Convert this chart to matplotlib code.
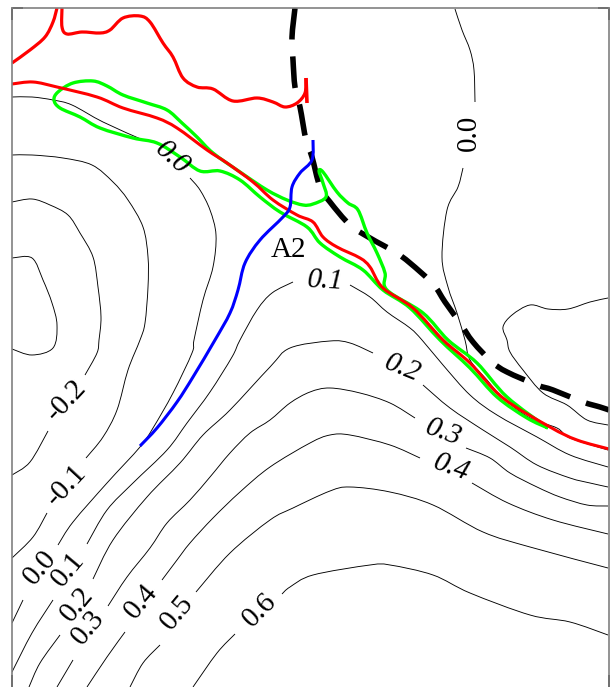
import matplotlib
matplotlib.use("Agg")
import matplotlib.pyplot as plt
from matplotlib.path import Path
from matplotlib.patches import PathPatch

plt.rcParams['font.family'] = ['Liberation Serif', 'DejaVu Serif']

# picture frame in the chart's own units
x_range = (12, 609)
y_range = (687, 8)

# thin contours, split where labels interrupt them
c_m03 = [(12,258),(32,258),(43,280),(52,303),(57,325),(53,348),(32,355),(12,349)]
c_m02a = [(12,202),(32,199),(50,205),(68,215),(80,233),(93,257),(98,287),(101,317),(99,340),(97,353),(85,375)]
c_m02b = [(48,431),(30,462),(12,475)]
c_m01a = [(12,155),(32,155),(63,158),(92,165),(113,182),(128,200),(143,227),(148,257),(148,287),(145,323),(140,340),(128,370),(117,410),(103,437),(86,458)]
c_m01b = [(47,513),(33,537),(12,558)]
c_00a = [(12,97),(32,97),(53,100),(72,105),(103,122),(143,140)]
c_00b = [(190,178),(200,190),(210,210),(216,235),(213,267),(203,300),(194,340),(192,353),(173,393),(153,428),(140,447),(107,483),(73,522),(58,545)]
c_00c = [(23,600),(12,623)]
c_01a = [(293,282),(272,293),(257,310),(240,340),(232,357),(210,392),(187,423),(167,450),(133,483),(107,510),(87,544)]
c_01b = [(53,600),(32,633),(12,672)]
c_01c = [(350,285),(370,297),(387,312),(410,328),(422,340),(443,365),(470,395),(497,415),(537,437),(570,455),(608,467)]
c_02a = [(373,353),(350,343),(330,341),(290,348),(270,367),(230,410),(203,435),(180,463),(147,497),(113,540),(93,579)]
c_02b = [(60,635),(40,663),(29,687)]
c_02c = [(423,385),(450,408),(483,430),(510,447),(537,465),(570,478),(590,483),(608,487)]
c_03a = [(415,418),(390,403),(360,393),(330,388),(310,392),(290,403),(270,420),(250,433),(230,453),(210,477),(190,500),(167,523),(150,548),(127,577),(108,606)]
c_03b = [(73,660),(57,687)]
c_03c = [(466,448),(490,458),(510,473),(537,487),(560,497),(587,505),(608,506)]
c_04a = [(420,458),(390,445),(350,435),(330,435),(310,443),(270,467),(240,492),(213,518),(190,543),(177,560),(162,580)]
c_04b = [(125,632),(107,657),(87,687)]
c_04c = [(472,483),(508,503),(553,520),(608,534)]
c_05a = [(608,568),(530,547),(483,532),(433,505),(390,492),(350,487),(330,491),(293,508),(270,520),(230,553),(196,592)]
c_05b = [(160,645),(143,663),(130,687)]
c_06a = [(282,594),(290,587),(313,575),(370,565),(390,565),(433,575),(470,593),(530,615),(570,622),(608,635)]
c_06b = [(235,634),(217,653),(193,687)]
c_r0a = [(455,9),(462,30),(470,50),(474,70),(475,102)]
c_r0b = [(463,168),(458,187),(447,210),(442,257),(448,287),(457,313),(465,340),(470,360),(487,380),(503,398),(530,418),(557,428),(570,438),(608,450)]
c_r1 = [(608,298),(590,302),(568,309),(548,309),(530,305),(512,315),(503,327),(507,340),(510,352),(523,370),(543,393),(567,405),(587,420),(608,425)]
thin_contours = [c_m03,c_m02a,c_m02b,c_m01a,c_m01b,c_00a,c_00b,c_00c,c_01a,c_01b,c_01c,
                 c_02a,c_02b,c_02c,c_03a,c_03b,c_03c,c_04a,c_04b,c_04c,c_05a,c_05b,
                 c_06a,c_06b,c_r0a,c_r0b,c_r1]

# coloured curves
black_dashed = [(295,8),(292,37),(293,60),(295,87),(300,107),(306,140),(312,157),(320,187),(330,202),(350,225),(370,238),(395,252),(410,263),(433,284),(445,302),(460,323),(473,342),(492,362),(507,372),(537,385),(553,390),(583,402),(600,407),(609,410)]
green_loop = [(548,428),(507,397),(477,363),(448,340),(423,313),(387,290),(385,273),(377,253),(367,233),(358,210),(348,203),(337,192),(323,172),(319,171),(323,183),(326,197),(313,204),(303,205),(287,200),(267,190),(240,172),(213,153),(197,137),(182,123),(167,110),(147,103),(123,95),(107,86),(93,81),(73,83),(58,92),(54,100),(60,108),(80,117),(100,128),(133,138),(157,143),(180,157),(200,171),(220,171),(240,180),(260,197),(280,212),(307,227),(320,243),(340,257),(363,270),(383,290),(410,308),(440,340),(470,368),(497,397),(527,418),(548,428)]
red_top_a = [(12,63),(30,50),(45,37),(53,22),(57,8)]
red_top_b = [(62,8),(62,27),(67,34),(82,32),(100,33),(110,30),(123,18),(140,16),(150,22),(163,43),(173,57),(183,78),(197,87),(213,89),(233,101),(257,98),(273,102),(285,107),(297,103),(305,93),(306,78)]
red_tip = [(306,78),(307,103)]
red_low = [(12,84),(33,82),(57,87),(97,97),(123,108),(157,118),(177,128),(207,150),(227,163),(253,182),(273,200),(297,215),(313,222),(323,237),(337,247),(360,258),(370,267),(383,288),(413,308),(443,340),(470,363),(503,398),(550,427),(577,440),(609,449)]
blue_line = [(140,446),(157,428),(177,402),(193,377),(215,340),(230,313),(238,290),(245,263),(260,240),(283,217),(290,207),(292,187),(300,173),(312,160),(313,140)]

# contour labels: text, x, y, rotation, style
label_texts = ['0.0','0.0','0.1','0.2','0.3','0.4','-0.2','-0.1','0.0','0.1','0.2','0.3','0.4','0.5','0.6','A2']
label_x = [172,469,325,402,443,451,66,66,40,68,77,88,141,177,260,288]
label_y = [158,133,281,368,433,468,400,485,568,570,605,628,602,613,610,250]
label_rot = [-42,90,-3,-22,-20,-20,47,47,50,50,50,50,50,50,45,0]
label_style = ['italic','normal','italic','italic','italic','italic','normal','normal','normal','normal','normal','normal','normal','normal','normal','normal']

# short black corner ticks
tick_marks = [[(12,8),(12,20)],[(12,8),(23,8)],[(598,8),(609,8)],[(609,8),(609,20)],[(12,675),(12,687)],[(609,675),(609,687)]]

fig = plt.figure(figsize=(6.12,6.87), dpi=100)
W, H = 612, 687
ax = fig.add_axes([x_range[0]/W, 0, (x_range[1]-x_range[0])/W, (H-y_range[1])/H])
ax.set_xlim(*x_range)
ax.set_ylim(*y_range)
ax.set_xticks([]); ax.set_yticks([])
for s in ['left','right','top']:
    ax.spines[s].set_color('#808080')
    ax.spines[s].set_linewidth(1.2)
ax.spines['bottom'].set_visible(False)

def smooth(pts):
    """Rounded bezier path through the given points."""
    n = len(pts)
    verts = [pts[0]]; codes = [Path.MOVETO]
    for i in range(n-1):
        p0 = pts[max(i-1,0)]; p1 = pts[i]; p2 = pts[i+1]; p3 = pts[min(i+2,n-1)]
        c1 = (p1[0]+(p2[0]-p0[0])/6, p1[1]+(p2[1]-p0[1])/6)
        c2 = (p2[0]-(p3[0]-p1[0])/6, p2[1]-(p3[1]-p1[1])/6)
        verts += [c1,c2,p2]; codes += [Path.CURVE4]*3
    return Path(verts,codes)

def draw(pts, **kw):
    ax.add_patch(PathPatch(smooth(pts), fill=False, joinstyle='round', **kw))

for c in thin_contours:
    draw(c, edgecolor='black', lw=0.65)

draw(black_dashed, edgecolor='black', lw=4.0, linestyle=(0,(5.7,3.05)), capstyle='butt')
draw(green_loop, edgecolor='#00ff00', lw=2.4)
draw(red_low, edgecolor='#ff0000', lw=2.2)
draw(red_top_a, edgecolor='#ff0000', lw=2.3)
draw(red_top_b, edgecolor='#ff0000', lw=2.3)
draw(red_tip, edgecolor='#ff0000', lw=2.6)
draw(blue_line, edgecolor='#0000ff', lw=2.2)

for t in tick_marks:
    ax.plot([p[0] for p in t],[p[1] for p in t], color='black', lw=1.2, clip_on=False, solid_capstyle='butt')

for t,x,y,r,st in zip(label_texts,label_x,label_y,label_rot,label_style):
    ax.text(x,y,t,rotation=r,style=st,fontsize=21,ha='center',va='center',rotation_mode='anchor',color='black')

fig.savefig('out.png', dpi=100)
